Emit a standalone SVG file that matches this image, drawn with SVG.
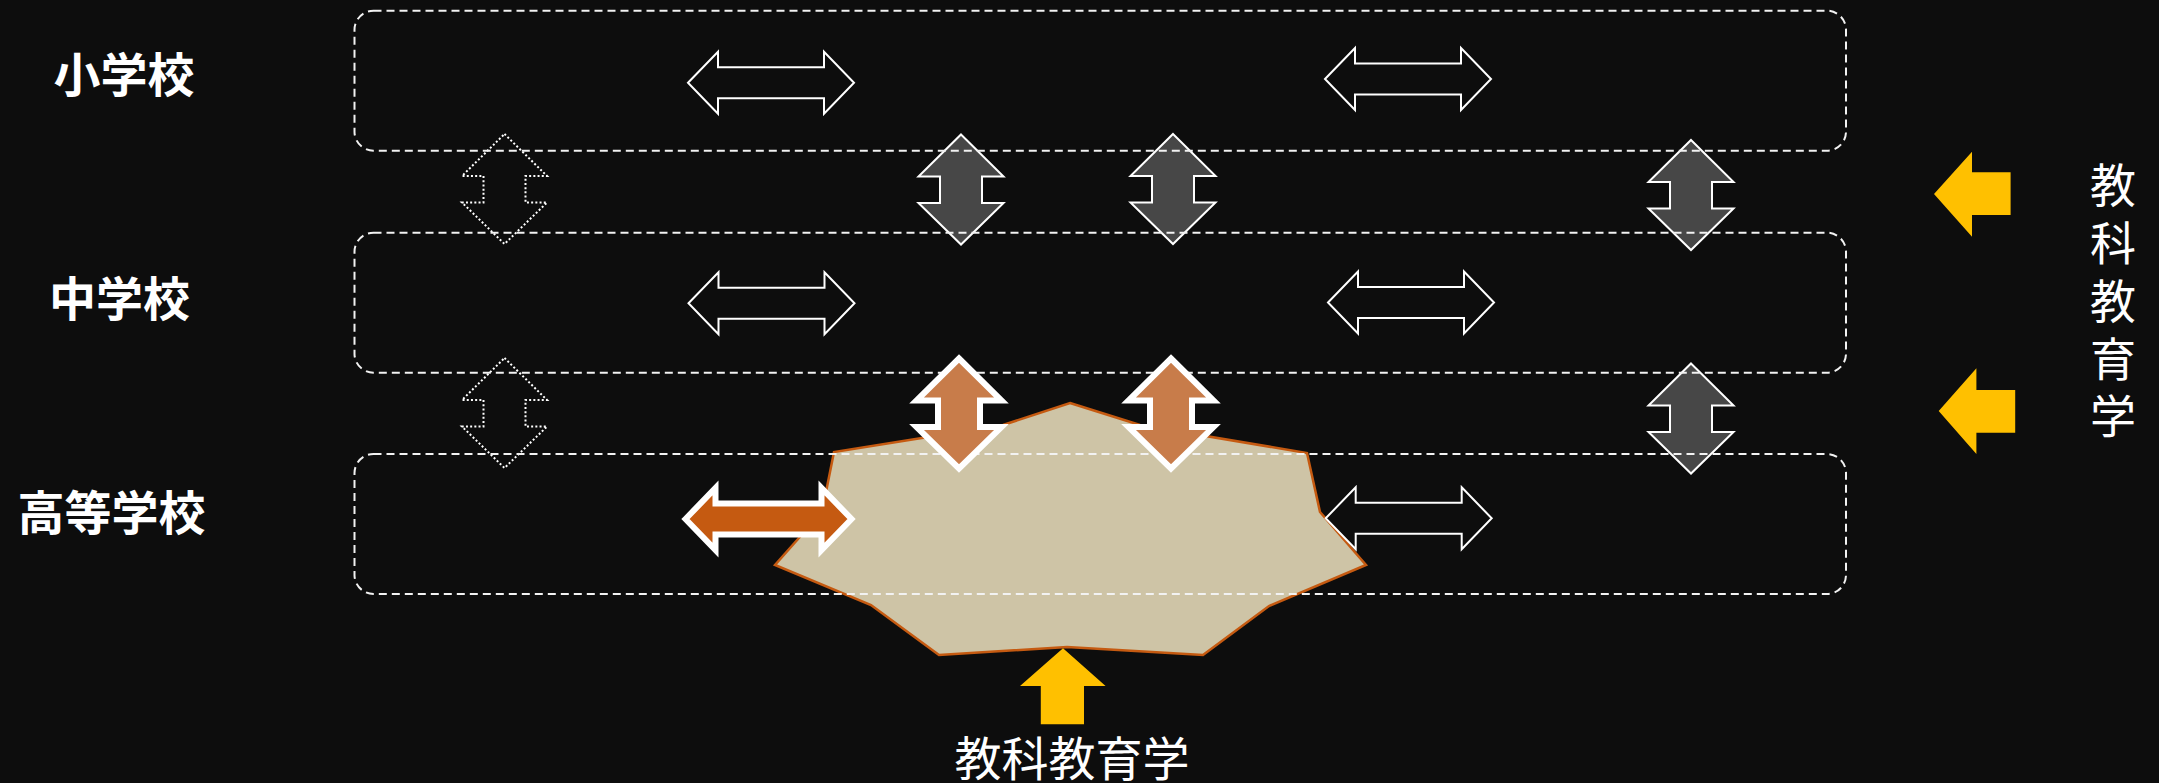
<svg xmlns="http://www.w3.org/2000/svg" xmlns:xlink="http://www.w3.org/1999/xlink" width="2159" height="783" viewBox="0 0 2159 783">
<style>
.lane{fill:none;stroke:#f2f2f2;stroke-width:2;stroke-dasharray:8 5}
.lbl{font-family:"Noto Sans CJK JP","Noto Sans CJK SC",sans-serif;fill:#ffffff}
.b{font-weight:700;font-size:47px;text-anchor:middle}
.n{font-weight:400;font-size:47px;text-anchor:middle}
.v{font-weight:400;font-size:46px;text-anchor:start;writing-mode:vertical-rl;letter-spacing:11.75px}
.hw{fill:#0d0d0d;stroke:#ffffff;stroke-width:2}
.ho{fill:#c55a11;stroke:#ffffff;stroke-width:6}
.vg{fill:#474747;stroke:#ffffff;stroke-width:2}
.vd{fill:none;stroke:#ffffff;stroke-width:2;stroke-dasharray:2 2.2}
.vo{fill:#c87c4a;stroke:#ffffff;stroke-width:6}
.y{fill:#ffc000}
</style>
<defs>
<path id="ha" d="M-83,0 L-53,-31 L-53,-15.5 L53,-15.5 L53,-31 L83,0 L53,31 L53,15.5 L-53,15.5 L-53,31 Z"/>
<path id="va" d="M0,-55 L42.5,-13 L21,-13 L21,13.5 L42.5,13.5 L0,55 L-42.5,13.5 L-21,13.5 L-21,-13 L-42.5,-13 Z"/>
</defs>
<rect width="2159" height="783" fill="#0d0d0d"/>

<g id="core">
<polygon points="1070,403 1140,425 1307,453 1320,512 1366,565 1269,606 1203,655 1067,647 939,655 871,605 775,565 822,512 834,452 1003,425" fill="#cec4a6" stroke="#c55a11" stroke-width="2.5" stroke-linejoin="miter"/>
</g>

<g id="connectors">
<use href="#va" class="vd" x="504.5" y="189"/>
<use href="#va" class="vd" x="504.5" y="413"/>
<use href="#va" class="vg" x="961" y="189.5"/>
<use href="#va" class="vg" x="1173" y="189"/>
<use href="#va" class="vg" x="1691" y="195"/>
<use href="#va" class="vg" x="1691" y="418.5"/>
</g>

<g id="lane-elementary"><rect class="lane" x="354.5" y="10.7" width="1491.5" height="140" rx="19" ry="19"/></g>
<g id="lane-junior"><rect class="lane" x="354.5" y="232.7" width="1491.5" height="140" rx="19" ry="19"/></g>
<g id="lane-senior"><rect class="lane" x="354.5" y="454" width="1491.5" height="140" rx="19" ry="19"/></g>

<g id="horizontal-arrows">
<use href="#ha" class="hw" x="771" y="82.7"/>
<use href="#ha" class="hw" x="1408" y="79"/>
<use href="#ha" class="hw" x="771.5" y="303.3"/>
<use href="#ha" class="hw" x="1411" y="302.5"/>
<use href="#ha" class="hw" x="1408.7" y="518.3"/>
<use href="#ha" class="ho" x="768.5" y="519"/>
</g>

<g id="orange-vertical">
<use href="#va" class="vo" x="959" y="413.5"/>
<use href="#va" class="vo" x="1171" y="413.5"/>
</g>

<g id="yellow-arrows">
<path class="y" d="M1934,194 L1972,151.7 L1972,172.3 L2010.6,172.3 L2010.6,215 L1972,215 L1972,236.7 Z"/>
<path class="y" d="M1938.7,411 L1976.4,368.3 L1976.4,390 L2015.2,390 L2015.2,432.7 L1976.4,432.7 L1976.4,454 Z"/>
<path class="y" d="M1063,648.3 L1105.6,686 L1084,686 L1084,724.3 L1040.8,724.3 L1040.8,686 L1020,686 Z"/>
</g>

<g id="labels">
<text class="lbl b" x="124" y="91.5">小学校</text>
<text class="lbl b" x="119.5" y="315.5">中学校</text>
<text class="lbl b" x="111.5" y="529.5">高等学校</text>
<text class="lbl n" x="1072" y="776">教科教育学</text>
<text class="lbl v" x="2113" y="162">教科教育学</text>
</g>
</svg>
